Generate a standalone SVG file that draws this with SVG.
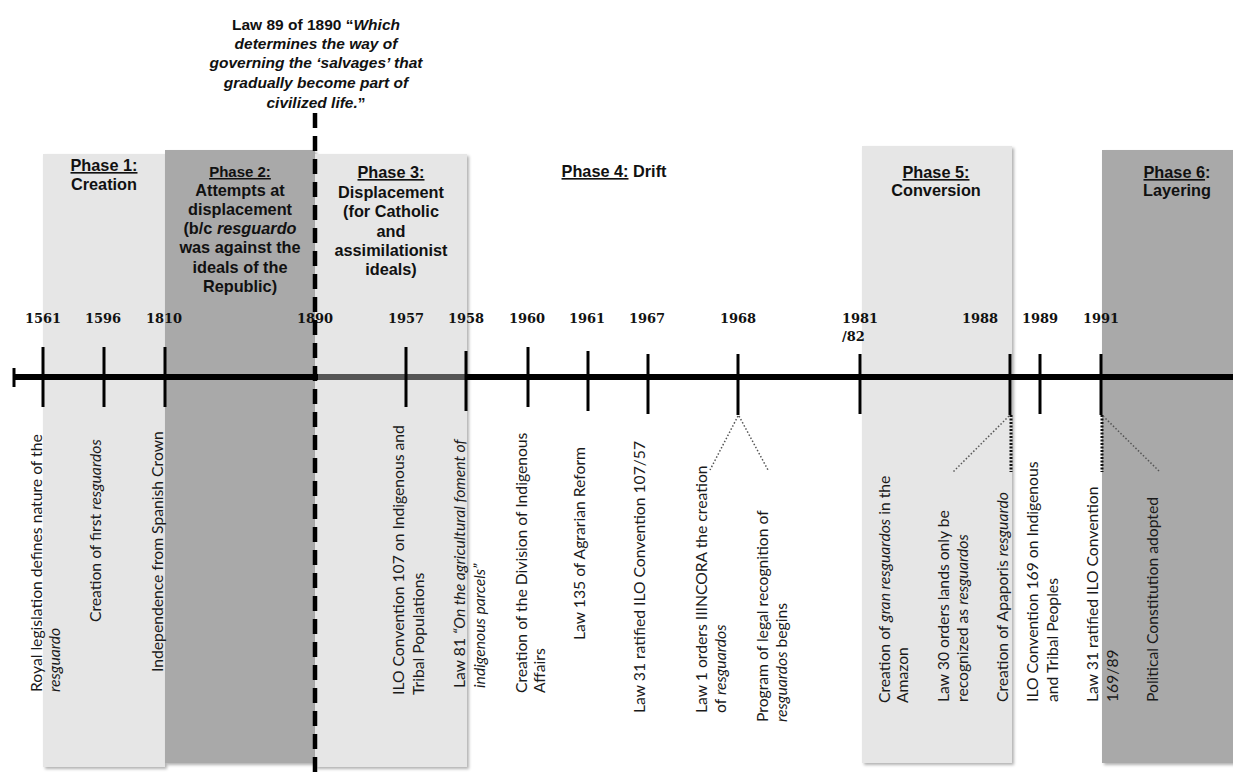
<svg xmlns="http://www.w3.org/2000/svg" width="1233" height="780" viewBox="0 0 1233 780">
<style>
.ph{font-family:"Liberation Sans",Arial,sans-serif;font-weight:bold;font-size:16.3px;fill:#111;text-anchor:middle}
.u{text-decoration:underline}
.yr{font-family:"DejaVu Serif",serif;font-weight:bold;font-size:13px;fill:#111;text-anchor:middle}
.ev{font-family:Lato,"Liberation Sans",sans-serif;font-size:15.7px;fill:#1a1a1a}
.it{font-style:italic}
.tick{stroke:#000;stroke-width:3}
.dot{stroke:#555;stroke-width:1.5;stroke-dasharray:1.5 2;fill:none}
.dotb{stroke:#111;stroke-width:3;stroke-dasharray:2 1.5;fill:none}
</style>
<defs>
<filter id="sh" x="-10%" y="-5%" width="120%" height="110%">
<feDropShadow dx="2" dy="2" stdDeviation="1.5" flood-color="#000" flood-opacity="0.3"/>
</filter>
</defs>
<rect width="1233" height="780" fill="#fff"/>

<g id="phase1">
<rect x="43" y="154" width="122" height="613" fill="#e6e6e6" filter="url(#sh)"/>
<text class="ph"><tspan class="u" x="104" y="171">Phase 1:</tspan><tspan x="104" y="190">Creation</tspan></text>
</g>
<g id="phase2">
<rect x="165" y="150" width="150" height="613" fill="#a9a9a9" filter="url(#sh)"/>
<text class="ph"><tspan class="u" x="240" y="177" style="font-size:15px">Phase 2:</tspan><tspan x="240" y="196">Attempts at</tspan><tspan x="240" y="215">displacement</tspan><tspan x="240" y="234">(b/c <tspan class="it">resguardo</tspan></tspan><tspan x="240" y="253">was against the</tspan><tspan x="240" y="273">ideals of the</tspan><tspan x="240" y="292">Republic)</tspan></text>
</g>
<g id="phase3">
<rect x="315" y="154" width="152" height="613" fill="#e6e6e6" filter="url(#sh)"/>
<text class="ph"><tspan class="u" x="391" y="178">Phase 3:</tspan><tspan x="391" y="198">Displacement</tspan><tspan x="391" y="217">(for Catholic</tspan><tspan x="391" y="237">and</tspan><tspan x="391" y="256">assimilationist</tspan><tspan x="391" y="275">ideals)</tspan></text>
</g>
<g id="phase4">
<text class="ph" x="614" y="177"><tspan class="u">Phase 4:</tspan> Drift</text>
</g>
<g id="phase5">
<rect x="862" y="146" width="150" height="617" fill="#e6e6e6" filter="url(#sh)"/>
<text class="ph"><tspan class="u" x="936" y="178">Phase 5:</tspan><tspan x="936" y="196">Conversion</tspan></text>
</g>
<g id="phase6">
<rect x="1102" y="150" width="140" height="613" fill="#a9a9a9" filter="url(#sh)"/>
<text class="ph"><tspan x="1177" y="178"><tspan class="u">Phase 6</tspan>:</tspan><tspan x="1177" y="196">Layering</tspan></text>
</g>

<g id="law89">
<text class="ph" style="font-size:15.5px"><tspan x="316" y="30">Law 89 of 1890 “<tspan class="it">Which</tspan></tspan><tspan class="it" x="316" y="49">determines the way of</tspan><tspan class="it" x="316" y="68">governing the ‘salvages’ that</tspan><tspan class="it" x="316" y="88">gradually become part of</tspan><tspan x="316" y="108"><tspan class="it">civilized life.</tspan>”</tspan></text>
</g>

<g id="connectors">
<line x1="13" y1="377" x2="1233" y2="377" stroke="#000" stroke-width="6"/>
<line x1="318" y1="377" x2="465" y2="377" stroke="#555" stroke-width="6"/>
<line x1="14" y1="368" x2="14" y2="387" stroke="#000" stroke-width="3"/>
<line class="tick" x1="43" y1="347" x2="43" y2="407"/>
<line class="tick" x1="104" y1="347" x2="104" y2="407"/>
<line class="tick" x1="165" y1="347" x2="165" y2="407"/>
<line class="tick" x1="406" y1="347" x2="406" y2="407"/>
<line class="tick" x1="466" y1="351" x2="466" y2="411"/>
<line class="tick" x1="528" y1="347" x2="528" y2="407"/>
<line class="tick" x1="588" y1="351" x2="588" y2="411"/>
<line class="tick" x1="648" y1="354" x2="648" y2="414"/>
<line class="tick" x1="738" y1="354" x2="738" y2="415"/>
<line class="tick" x1="860" y1="354" x2="860" y2="414"/>
<line class="tick" x1="1010" y1="354" x2="1010" y2="415"/>
<line class="tick" x1="1040" y1="354" x2="1040" y2="414"/>
<line class="tick" x1="1101" y1="354" x2="1101" y2="415"/>
<path class="dot" d="M738,416 L710,470 M739,416 L768,470"/>
<path class="dot" d="M1009,416 L953,472"/>
<path class="dotb" d="M1011,415 L1011,472"/>
<path class="dotb" d="M1102,415 L1102,472"/>
<path class="dot" d="M1103,416 L1160,472"/>
</g>

<g id="years">
<text class="yr" x="43" y="323">1561</text>
<text class="yr" x="103" y="323">1596</text>
<text class="yr" x="164" y="323">1810</text>
<text class="yr" x="315" y="323">1890</text>
<text class="yr" x="406" y="323">1957</text>
<text class="yr" x="466" y="323">1958</text>
<text class="yr" x="527" y="323">1960</text>
<text class="yr" x="587" y="323">1961</text>
<text class="yr" x="647" y="323">1967</text>
<text class="yr" x="738" y="323">1968</text>
<text class="yr" x="860" y="323">1981</text>
<text class="yr" x="842" y="341" style="text-anchor:start">/82</text>
<text class="yr" x="980" y="323">1988</text>
<text class="yr" x="1040" y="323">1989</text>
<text class="yr" x="1101" y="323">1991</text>
</g>

<g id="events">
<g id="e1561a"><text class="ev" transform="translate(42,692) rotate(-90)"><tspan x="0" y="0">Royal legislation defines nature of the</tspan><tspan class="it" x="0" y="18">resguardo</tspan></text></g>
<g id="e1596"><text class="ev" transform="translate(101,622) rotate(-90)">Creation of first <tspan class="it">resguardos</tspan></text></g>
<g id="e1810"><text class="ev" transform="translate(163,672) rotate(-90)">Independence from Spanish Crown</text></g>
<g id="e1957"><text class="ev" transform="translate(404,695) rotate(-90)"><tspan x="0" y="0">ILO Convention 107 on Indigenous and</tspan><tspan x="0" y="20">Tribal Populations</tspan></text></g>
<g id="e1958"><text class="ev" transform="translate(465,688) rotate(-90)"><tspan x="0" y="0">Law 81 <tspan class="it">“On the agricultural foment of</tspan></tspan><tspan class="it" x="0" y="20">indigenous parcels”</tspan></text></g>
<g id="e1960"><text class="ev" transform="translate(527,693) rotate(-90)"><tspan x="0" y="0">Creation of the Division of Indigenous</tspan><tspan x="0" y="18">Affairs</tspan></text></g>
<g id="e1961"><text class="ev" transform="translate(585,640) rotate(-90)">Law 135 of Agrarian Reform</text></g>
<g id="e1967"><text class="ev" transform="translate(645,713) rotate(-90)">Law 31 ratified ILO Convention 107/57</text></g>
<g id="e1968a"><text class="ev" transform="translate(707,713) rotate(-90)"><tspan x="0" y="0">Law 1 orders IIINCORA the creation</tspan><tspan x="0" y="19">of <tspan class="it">resguardos</tspan></tspan></text></g>
<g id="e1968b"><text class="ev" transform="translate(768,722) rotate(-90)"><tspan x="0" y="0">Program of legal recognition of</tspan><tspan x="0" y="19"><tspan class="it">resguardos</tspan> begins</tspan></text></g>
<g id="e1981"><text class="ev" transform="translate(890,703) rotate(-90)"><tspan x="0" y="0">Creation of <tspan class="it">gran resguardos</tspan> in the</tspan><tspan x="0" y="18">Amazon</tspan></text></g>
<g id="e1988a"><text class="ev" transform="translate(949,702) rotate(-90)"><tspan x="0" y="0">Law 30 orders lands only be</tspan><tspan x="0" y="19">recognized as <tspan class="it">resguardos</tspan></tspan></text></g>
<g id="e1988b"><text class="ev" transform="translate(1008,702) rotate(-90)">Creation of  Apaporis <tspan class="it">resguardo</tspan></text></g>
<g id="e1989"><text class="ev" transform="translate(1038,702) rotate(-90)"><tspan x="0" y="0">ILO Convention 169 on Indigenous</tspan><tspan x="0" y="20">and Tribal Peoples</tspan></text></g>
<g id="e1991a"><text class="ev" transform="translate(1098,702) rotate(-90)"><tspan x="0" y="0">Law 31 ratified ILO Convention</tspan><tspan x="0" y="20">169/89</tspan></text></g>
<g id="e1991b"><text class="ev" transform="translate(1158,702) rotate(-90)">Political Constitution adopted</text></g>
</g>

<g id="divider">
<line x1="315" y1="113" x2="315" y2="780" stroke="#000" stroke-width="4.5" stroke-dasharray="15 8"/>
</g>
</svg>
